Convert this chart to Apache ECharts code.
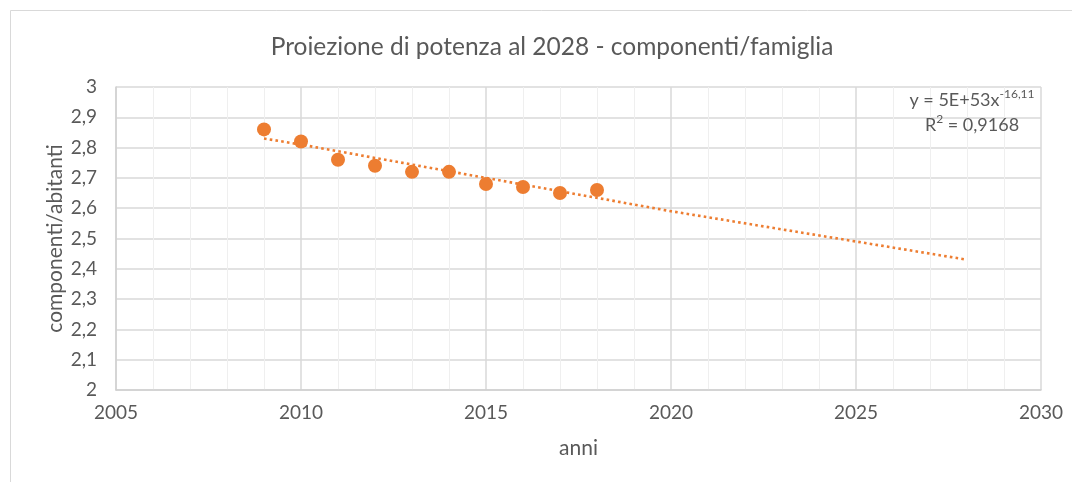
<!DOCTYPE html>
<html>
<head>
<meta charset="utf-8">
<script src="https://cdn.jsdelivr.net/npm/echarts@6/dist/echarts.min.js"></script>
<style>
  html, body { margin: 0; padding: 0; background: #ffffff; }
  #chart { width: 1072px; height: 482px; }
</style>
</head>
<body>
<div id="chart"></div>
<script>
// Household size (componenti per famiglia), yearly observations
const years = [2009, 2010, 2011, 2012, 2013, 2014, 2015, 2016, 2017, 2018];
const componenti = [2.86, 2.82, 2.76, 2.74, 2.72, 2.72, 2.68, 2.67, 2.65, 2.66];

// Power trendline projected to 2028
const trendYears = [2009, 2010, 2015, 2020, 2025, 2028];
const trendValues = [2.83, 2.81, 2.70, 2.59, 2.49, 2.43];

const titleText = 'Proiezione di potenza al 2028 - componenti/famiglia';
const xName = 'anni';
const yName = 'componenti/abitanti';
const equation = 'y = 5E+53x';
const exponent = '-16,11';
const rLabel = 'R';
const rExp = '2';
const rValue = ' = 0,9168';

const FONT = 'Lato';
const TEXT = '#595959';
const ORANGE = '#ED7D31';

const chart = echarts.init(document.getElementById('chart'), null, { renderer: 'canvas' });

const fmtDec = v => String(parseFloat(v.toFixed(1))).replace('.', ',');

chart.setOption({
  animation: false,
  backgroundColor: '#ffffff',
  textStyle: { fontFamily: FONT },
  title: {
    text: titleText,
    left: 547,
    top: 30,
    textAlign: 'center',
    textStyle: { fontFamily: FONT, fontSize: 24.5, fontWeight: 'normal', color: TEXT }
  },
  grid: { left: 116, right: 31, top: 87, bottom: 92, containLabel: false },
  xAxis: {
    type: 'value',
    min: 2005,
    max: 2030,
    interval: 5,
    name: xName,
    nameLocation: 'middle',
    nameGap: 48,
    nameTextStyle: { fontFamily: FONT, fontSize: 21, color: TEXT },
    axisLine: { show: true, lineStyle: { color: '#d0d0d0', width: 1.5 } },
    axisTick: { show: false },
    axisLabel: { fontFamily: FONT, fontSize: 19, color: TEXT, margin: 13, formatter: v => String(v) },
    splitLine: { show: true, lineStyle: { color: '#d9d9d9', width: 1.5 } },
    minorTick: { show: false, splitNumber: 5 },
    minorSplitLine: { show: true, lineStyle: { color: '#efefef', width: 1 } }
  },
  yAxis: {
    type: 'value',
    min: 2,
    max: 3,
    interval: 0.1,
    name: yName,
    nameLocation: 'middle',
    nameGap: 50,
    nameMoveOverlap: false,
    nameTextStyle: { fontFamily: FONT, fontSize: 21, color: TEXT },
    axisLine: { show: true, lineStyle: { color: '#d0d0d0', width: 1.5 } },
    axisTick: { show: false },
    axisLabel: { fontFamily: FONT, fontSize: 19, color: TEXT, margin: 19, formatter: fmtDec },
    splitLine: { show: true, lineStyle: { color: '#d9d9d9', width: 1.5 } }
  },
  series: [
    {
      name: 'trend',
      type: 'line',
      data: trendYears.map((y, i) => [y, trendValues[i]]),
      showSymbol: false,
      symbol: 'none',
      smooth: false,
      lineStyle: { color: ORANGE, width: 2.6, type: [2.6, 3.2], cap: 'butt' },
      z: 2,
      silent: true
    },
    {
      name: 'componenti',
      type: 'scatter',
      data: years.map((y, i) => [y, componenti[i]]),
      symbol: 'circle',
      symbolSize: 14,
      itemStyle: { color: ORANGE, opacity: 1 },
      z: 3
    }
  ],
  graphic: [
    {
      type: 'rect',
      shape: { x: 10.5, y: 10.5, width: 1100, height: 500 },
      style: { fill: 'none', stroke: '#d9d9d9', lineWidth: 1 },
      silent: true,
      z: 0
    },
    {
      type: 'text',
      x: 972,
      y: 88,
      style: {
        text: '{a|' + equation + '}{s|' + exponent + '}\n{a|' + rLabel + '}{s|' + rExp + '}{a|' + rValue + '}',
        align: 'center',
        fontFamily: FONT,
        rich: {
          a: { fontFamily: FONT, fontSize: 18, lineHeight: 25, fill: TEXT },
          s: { fontFamily: FONT, fontSize: 12, lineHeight: 25, fill: TEXT, verticalAlign: 'top', padding: [0, 0, 10, 0] }
        }
      },
      z: 10
    }
  ]
});
</script>
</body>
</html>
